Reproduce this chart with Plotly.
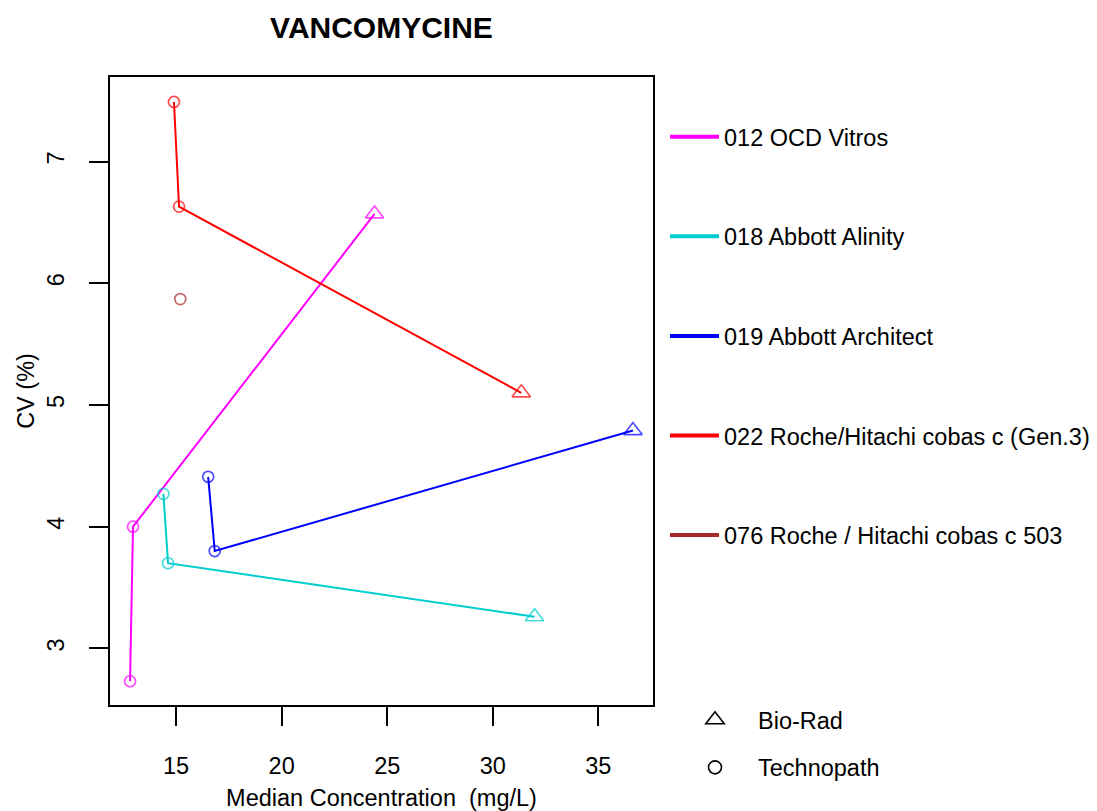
import plotly.graph_objects as go

# ---------------- data ----------------
methods = ["012 OCD Vitros", "018 Abbott Alinity", "019 Abbott Architect",
           "022 Roche/Hitachi cobas c (Gen.3)", "076 Roche / Hitachi cobas c 503"]
colors = ["#FF00FF", "#00CDCD", "#0000FF", "#FF0000", "#A52A2A"]

vitros_conc = [12.82, 12.96, 24.40]
vitros_cv = [2.73, 4.00, 6.57]
vitros_ctrl = ["Technopath", "Technopath", "Bio-Rad"]

alinity_conc = [14.40, 14.62, 31.98]
alinity_cv = [4.27, 3.70, 3.26]
alinity_ctrl = ["Technopath", "Technopath", "Bio-Rad"]

architect_conc = [16.52, 16.83, 36.64]
architect_cv = [4.41, 3.80, 4.79]
architect_ctrl = ["Technopath", "Technopath", "Bio-Rad"]

cobas_conc = [14.90, 15.14, 31.35]
cobas_cv = [7.49, 6.63, 5.10]
cobas_ctrl = ["Technopath", "Technopath", "Bio-Rad"]

c503_conc = [15.20]
c503_cv = [5.87]
c503_ctrl = ["Technopath"]

controls = ["Bio-Rad", "Technopath"]
ctrl_symbols = {"Bio-Rad": "triangle-up-open", "Technopath": "circle-open"}
ctrl_sizes = {"Bio-Rad": 16, "Technopath": 11}

series = [
    (vitros_conc, vitros_cv, vitros_ctrl),
    (alinity_conc, alinity_cv, alinity_ctrl),
    (architect_conc, architect_cv, architect_ctrl),
    (cobas_conc, cobas_cv, cobas_ctrl),
    (c503_conc, c503_cv, c503_ctrl),
]

FONT = "Liberation Sans, Arial, sans-serif"
FS = 23.5

fig = go.Figure()

for name, col, (xs, ys, cs) in zip(methods, colors, series):
    fig.add_trace(go.Scatter(
        x=xs, y=ys, mode="lines+markers", name=name,
        line=dict(color=col, width=2),
        marker=dict(symbol=[ctrl_symbols[c] for c in cs],
                    size=[ctrl_sizes[c] for c in cs],
                    color=col, line=dict(color=col, width=1.7)),
        showlegend=False, hoverinfo="x+y+name",
    ))

# legend entries for methods
for i, (name, col) in enumerate(zip(methods, colors)):
    fig.add_trace(go.Scatter(
        x=[None], y=[None], mode="lines", name=name,
        line=dict(color=col, width=4),
        legend="legend", legendgroup="m%d" % i, showlegend=True,
    ))

# legend entries for controls
for i, c in enumerate(controls):
    fig.add_trace(go.Scatter(
        x=[None], y=[None], mode="markers", name=c,
        marker=dict(symbol=ctrl_symbols[c], size=ctrl_sizes[c] + 2, color="black",
                    line=dict(color="black", width=1.6)),
        legend="legend2", legendgroup="c%d" % i, showlegend=True,
    ))

axis_common = dict(
    showgrid=False, zeroline=False, showline=True, linecolor="black", linewidth=1.5,
    mirror=True, ticks="outside", ticklen=19, tickwidth=1.5, tickcolor="black",
    automargin=False,
    tickfont=dict(family=FONT, size=FS, color="black"),
)

fig.update_layout(
    width=1097, height=811,
    paper_bgcolor="white", plot_bgcolor="white",
    margin=dict(l=110, r=444, t=77, b=106, autoexpand=False),
    font=dict(family=FONT, size=FS, color="black"),
    title=dict(text="<b>VANCOMYCINE</b>", x=(110 + 653) / 2 / 1097, xref="container",
               y=1 - 27 / 811, yref="container", xanchor="center", yanchor="middle",
               font=dict(family=FONT, size=30, color="black")),
    xaxis=dict(range=[11.87, 37.59], tickvals=[15, 20, 25, 30, 35],
               ticklabelstandoff=20,
               title=dict(text="Median Concentration \u00a0(mg/L)", standoff=17,
                          font=dict(family=FONT, size=FS, color="black")),
               **axis_common),
    yaxis=dict(range=[2.535, 7.695], tickvals=[3, 4, 5, 6, 7], tickangle=-90,
               ticklabelstandoff=16,
               title=dict(text="CV (%)", standoff=2,
                          font=dict(family=FONT, size=FS, color="black")),
               **axis_common),
    legend=dict(xref="container", yref="container", x=665 / 1097, y=1 - 115 / 811,
                xanchor="left", yanchor="top", font=dict(family=FONT, size=FS, color="black"),
                tracegroupgap=66, itemwidth=49, bgcolor="rgba(0,0,0,0)", borderwidth=0,
                maxheight=1, itemclick=False, itemdoubleclick=False),
    legend2=dict(xref="container", yref="container", x=672 / 1097, y=1 - 698 / 811,
                 xanchor="left", yanchor="top", font=dict(family=FONT, size=FS, color="black"),
                 tracegroupgap=14, itemwidth=76, bgcolor="rgba(0,0,0,0)", borderwidth=0,
                 maxheight=1, itemclick=False, itemdoubleclick=False),
)

fig.write_html("out.html")
